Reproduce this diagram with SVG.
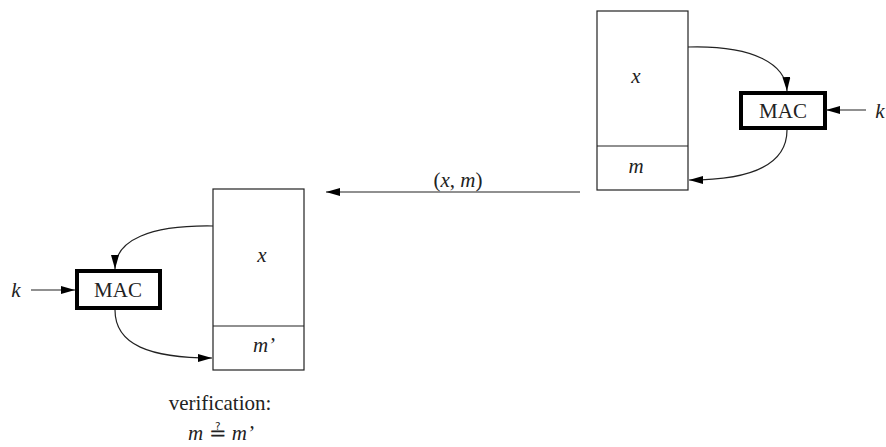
<svg xmlns="http://www.w3.org/2000/svg" width="886" height="447" viewBox="0 0 886 447">
<style>
text{font-family:"Liberation Serif","Times New Roman","DejaVu Serif",serif;fill:#222}
.v{font-style:italic;font-size:21px}
.mac{font-size:21px}
.t{font-size:21px}
.box{fill:#fff;stroke:#222;stroke-width:1.2}
.macbox{fill:#fff;stroke:#000;stroke-width:4}
.c{fill:none;stroke:#222;stroke-width:1.2}
</style>
<defs>
<marker id="ah" viewBox="0 0 14 8" refX="14" refY="4" markerWidth="14" markerHeight="8" markerUnits="userSpaceOnUse" orient="auto">
<path d="M0,0 L14,4 L0,8 Z" fill="#000"/>
</marker>
</defs>
<g id="sender-block">
<rect class="box" x="597" y="11" width="91" height="179"/>
<line class="c" x1="597" y1="146" x2="688" y2="146"/>
<text class="v" x="636" y="83" text-anchor="middle">x</text>
<text class="v" x="636" y="173" text-anchor="middle">m</text>
</g>
<g id="sender-mac">
<rect class="macbox" x="741" y="93" width="84" height="35"/>
<text class="mac" x="783" y="118" text-anchor="middle">MAC</text>
</g>
<g id="sender-k"><text class="v" x="880" y="118" text-anchor="middle">k</text></g>
<g id="receiver-block">
<rect class="box" x="213" y="189" width="91" height="181"/>
<line class="c" x1="213" y1="326" x2="304" y2="326"/>
<text class="v" x="262" y="262" text-anchor="middle">x</text>
<text class="v" x="264" y="352" text-anchor="middle">m’</text>
</g>
<g id="receiver-mac">
<rect class="macbox" x="77" y="271" width="83" height="37"/>
<text class="mac" x="118" y="297" text-anchor="middle">MAC</text>
</g>
<g id="receiver-k"><text class="v" x="16" y="297" text-anchor="middle">k</text></g>
<g id="verification">
<text class="t" x="220" y="410" text-anchor="middle">verification:</text>
<text class="t" x="221" y="440" text-anchor="middle"><tspan font-style="italic">m</tspan> ≟ <tspan font-style="italic">m’</tspan></text>
</g>
<g id="connectors">
<path class="c" d="M688,47 C755,45 786,65 787,91" marker-end="url(#ah)"/>
<line class="c" x1="866" y1="110" x2="826" y2="110" marker-end="url(#ah)"/>
<path class="c" d="M787,130 C787,165 750,180 689,180" marker-end="url(#ah)"/>
<line class="c" x1="580" y1="192" x2="326" y2="192" marker-end="url(#ah)"/>
<text class="t" x="458" y="187" text-anchor="middle">(<tspan font-style="italic">x</tspan>, <tspan font-style="italic">m</tspan>)</text>
<path class="c" d="M213,226 C150,225 115,240 115,269" marker-end="url(#ah)"/>
<line class="c" x1="31" y1="290" x2="75" y2="290" marker-end="url(#ah)"/>
<path class="c" d="M115,310 C115,345 150,358 212,358" marker-end="url(#ah)"/>
</g>
</svg>
